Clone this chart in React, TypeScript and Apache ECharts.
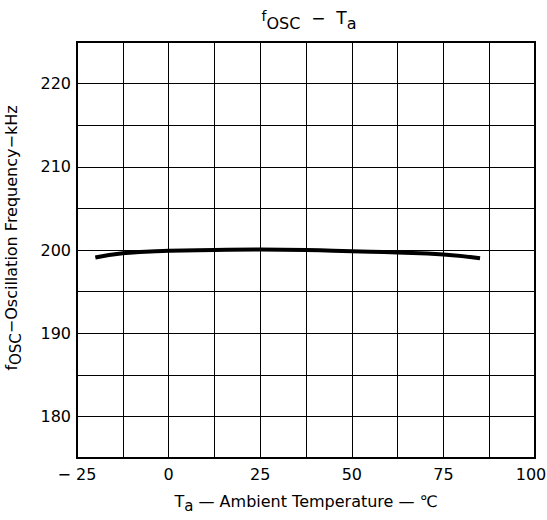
import React, { useEffect, useRef } from "react";
import * as echarts from "echarts";

const temperature = [-20, -12.5, 0, 12.5, 25, 37.5, 50, 62.5, 75, 85];
const frequency = [199.1, 199.6, 199.9, 200.0, 200.05, 200.0, 199.85, 199.7, 199.45, 199.0];
const xTickLabels = [-25, 0, 25, 50, 75, 100];
const yTickLabels = [180, 190, 200, 210, 220];

const FONT = "'DejaVu Sans', 'Liberation Sans', sans-serif";

export default function App() {
  const ref = useRef<HTMLDivElement>(null);
  useEffect(() => {
    document.body.style.margin = "0";
    const chart = echarts.init(ref.current!, null, { renderer: "svg" });
    chart.setOption({
      animation: false,
      backgroundColor: "#fff",
      textStyle: { fontFamily: FONT, color: "#000" },
      title: {
        text: "{f|f}{s|OSC}{n|  −  T}{s|a}",
        left: 304,
        textAlign: "center",
        top: 4,
        textStyle: {
          fontWeight: "normal",
          rich: {
            f: { fontSize: 14, fontFamily: FONT, color: "#000", fontWeight: "normal", verticalAlign: "top", lineHeight: 22 },
            s: { fontSize: 16, fontFamily: FONT, color: "#000", fontWeight: "normal", verticalAlign: "bottom", lineHeight: 22 },
            n: { fontSize: 17, fontFamily: FONT, color: "#000", fontWeight: "normal", verticalAlign: "top", lineHeight: 22 },
          },
        },
      },
      grid: {
        left: 77,
        right: 12,
        top: 42,
        bottom: 62,
        show: true,
        borderColor: "#000",
        borderWidth: 2,
        containLabel: false,
        outerBoundsMode: "none",
      },
      xAxis: {
        type: "value",
        min: -25,
        max: 100,
        interval: 12.5,
        axisLine: { show: false },
        axisTick: { show: false },
        splitLine: { show: true, lineStyle: { color: "#000", width: 1 } },
        axisLabel: {
          fontSize: 16,
          fontFamily: FONT,
          color: "#000",
          margin: 8,
          rich: {
            r: { fontSize: 16, fontFamily: FONT, color: "#000", padding: [0, 8, 0, 0] },
          },
          formatter: (v: number) => {
            const hit = xTickLabels.find((t) => Math.abs(t - v) < 1e-6);
            if (hit === undefined) return "";
            if (hit === xTickLabels[xTickLabels.length - 1]) return "{r|" + hit + "}";
            return hit < 0 ? "− " + Math.abs(hit) : String(hit);
          },
        },
        name: "{n|T}{s|a}{n| — Ambient Temperature — ℃}",
        nameLocation: "middle",
        nameGap: 35,
        nameTextStyle: {
          rich: {
            n: { fontSize: 16, fontFamily: FONT, color: "#000", verticalAlign: "top", lineHeight: 20 },
            s: { fontSize: 15, fontFamily: FONT, color: "#000", verticalAlign: "bottom", lineHeight: 20 },
          },
        },
      },
      yAxis: {
        type: "value",
        min: 175,
        max: 225,
        interval: 5,
        axisLine: { show: false },
        axisTick: { show: false },
        splitLine: { show: true, lineStyle: { color: "#000", width: 1 } },
        axisLabel: {
          fontSize: 16,
          fontFamily: FONT,
          color: "#000",
          margin: 6,
          formatter: (v: number) => (yTickLabels.includes(v) ? String(v) : ""),
        },
        name: "{f|f}{s|OSC}{n|−Oscillation Frequency−kHz}",
        nameLocation: "middle",
        nameGap: 54,
        nameTextStyle: {
          padding: [0, 0, 0, 24],
          rich: {
            f: { fontSize: 16, fontFamily: FONT, color: "#000", verticalAlign: "top", lineHeight: 20 },
            s: { fontSize: 15, fontFamily: FONT, color: "#000", verticalAlign: "bottom", lineHeight: 20 },
            n: { fontSize: 16, fontFamily: FONT, color: "#000", verticalAlign: "top", lineHeight: 20 },
          },
        },
      },
      series: [
        {
          type: "line",
          data: temperature.map((t, i) => [t, frequency[i]]),
          smooth: true,
          symbol: "none",
          lineStyle: { color: "#000", width: 4 },
        },
      ],
    });
    return () => chart.dispose();
  }, []);
  return <div ref={ref} style={{ width: 547, height: 520 }} />;
}
